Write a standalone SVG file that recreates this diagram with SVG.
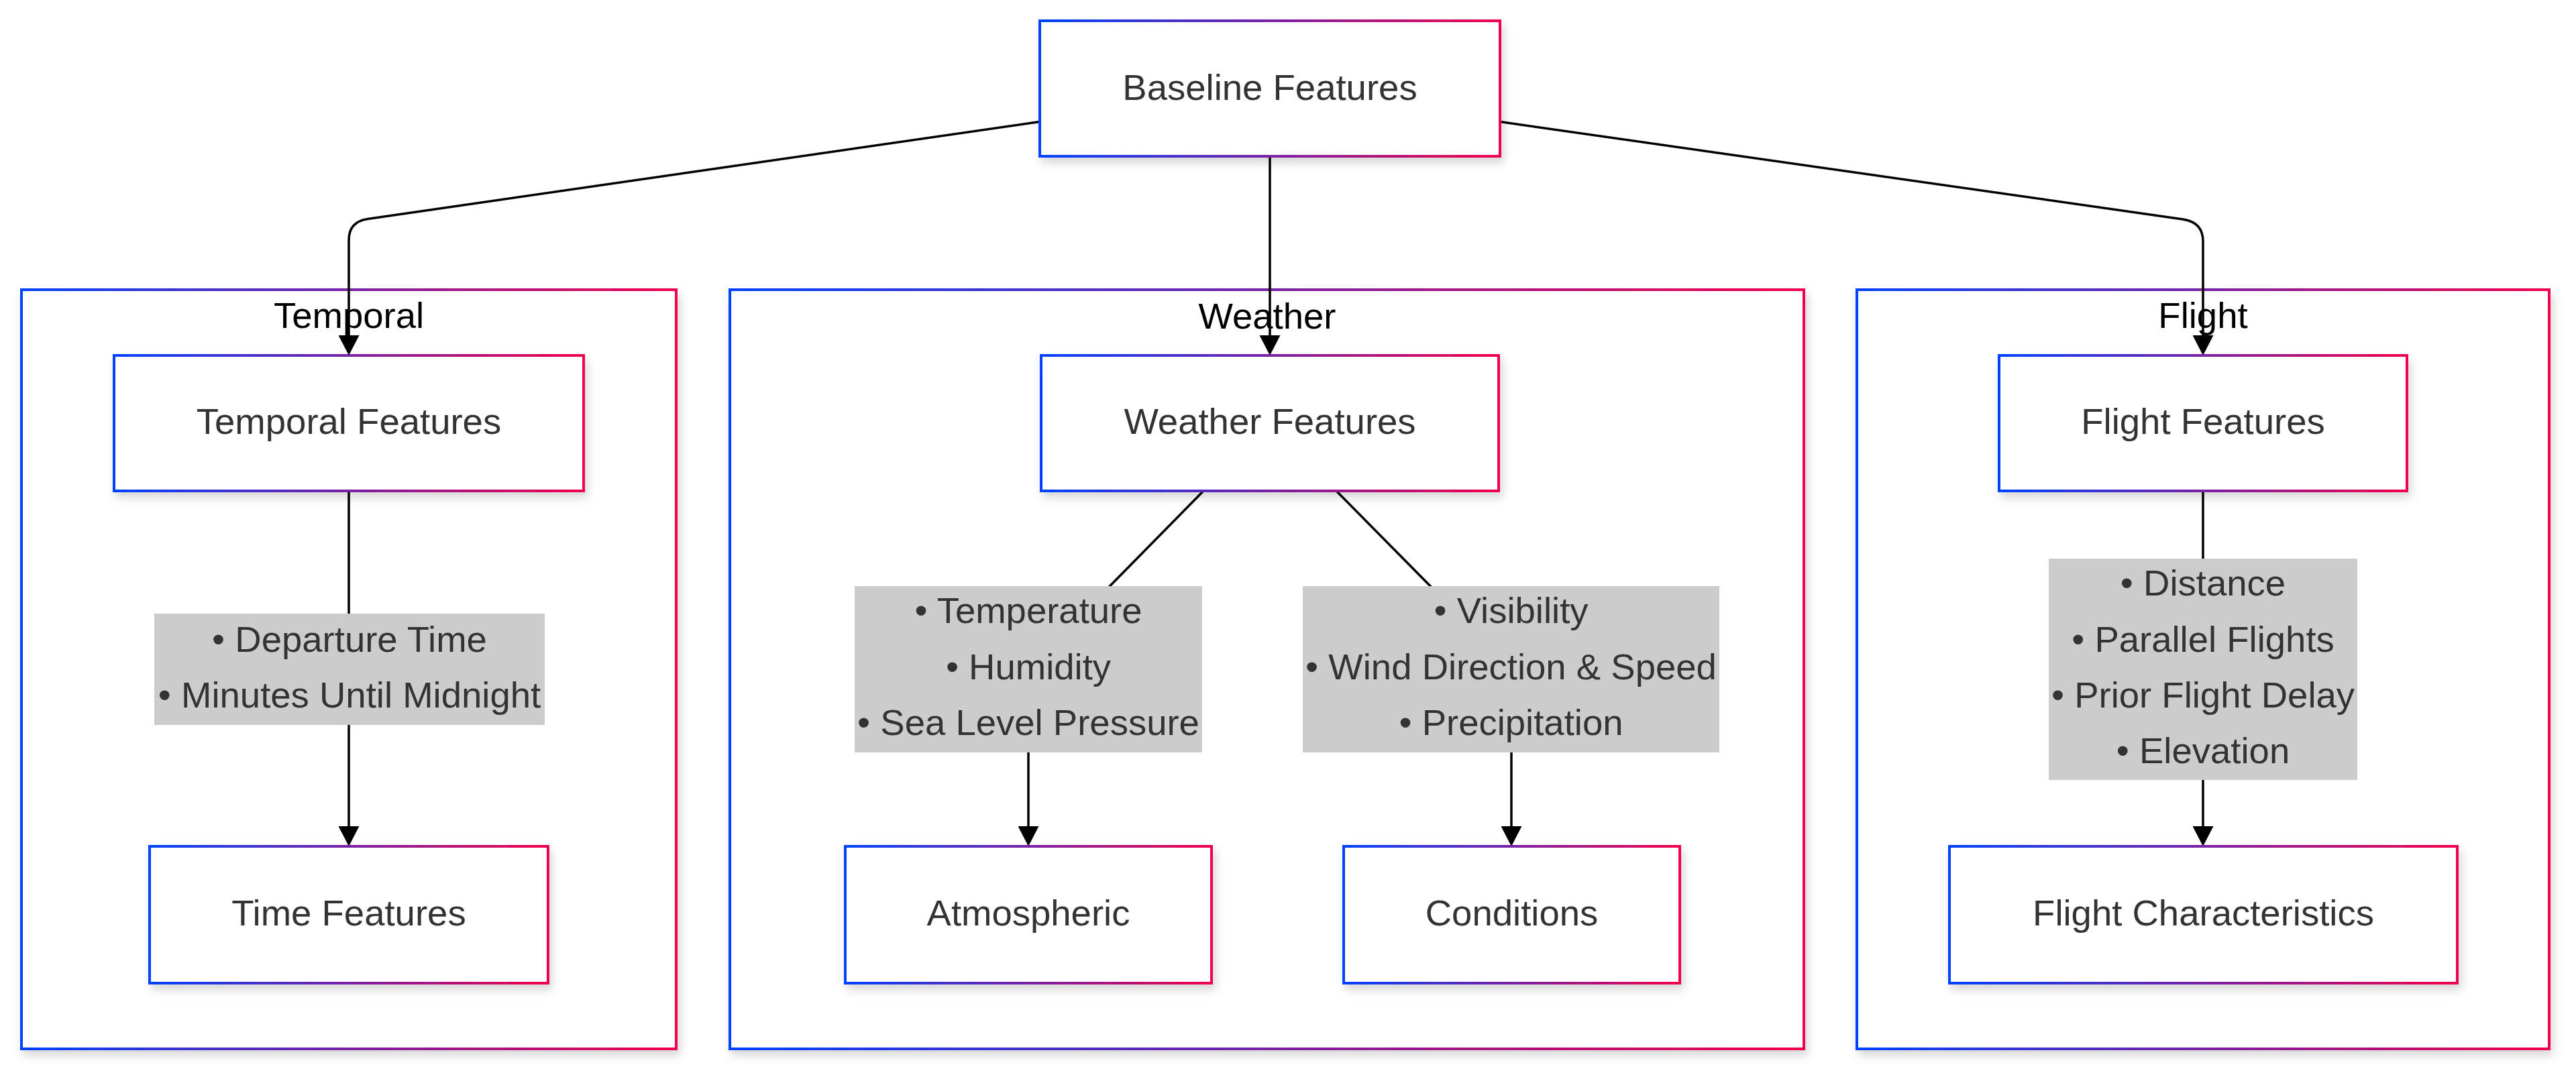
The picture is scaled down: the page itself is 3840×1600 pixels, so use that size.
<svg xmlns="http://www.w3.org/2000/svg" width="3840" height="1600" viewBox="0 0 3840 1600">
  <defs>
    <linearGradient id="grad" x1="0" y1="0" x2="1" y2="0">
      <stop offset="0" stop-color="#0042ff"/>
      <stop offset="1" stop-color="#f2004c"/>
    </linearGradient>
    <filter id="shadow" x="-10%" y="-10%" width="120%" height="130%">
      <feDropShadow dx="4" dy="8" stdDeviation="7" flood-color="#000" flood-opacity="0.16"/>
    </filter>
    <marker id="arrow" viewBox="0 0 30 31" refX="0" refY="15.5" markerWidth="30" markerHeight="31" markerUnits="userSpaceOnUse" orient="auto">
      <path d="M0,0 L30,15.5 L0,31 z" fill="#000"/>
    </marker>
    <style>
      .cluster { fill: #ffffff; stroke: url(#grad); stroke-width: 4; filter: url(#shadow); }
      .node rect { fill: #ffffff; stroke: url(#grad); stroke-width: 4; filter: url(#shadow); }
      .ntext { font-family: "Liberation Sans", Arial, sans-serif; font-size: 54.5px; fill: #333333; text-anchor: middle; }
      .ctext { font-family: "Liberation Sans", Arial, sans-serif; font-size: 54.5px; fill: #000000; text-anchor: middle; }
      .edge { fill: none; stroke: #000000; stroke-width: 3.5; }
      .lbg { fill: #cccccc; }
    </style>
  </defs>
  <rect x="0" y="0" width="3840" height="1600" fill="#ffffff"/>

  <g id="clusters">
    <g id="cluster-temporal">
      <rect class="cluster" x="32" y="432" width="976" height="1132"/>
    </g>
    <g id="cluster-weather">
      <rect class="cluster" x="1088" y="432" width="1601" height="1132"/>
    </g>
    <g id="cluster-flight">
      <rect class="cluster" x="2768" y="432" width="1032" height="1132"/>
    </g>
  </g>

  <g id="connectors">
    <path class="edge" d="M1550,181.5 L548,326.5 Q520,330.6 520,358 L520,500" marker-end="url(#arrow)"/>
    <path class="edge" d="M1893,233 L1893,500" marker-end="url(#arrow)"/>
    <path class="edge" d="M2236,181.5 L3254,327 Q3284,331.3 3284,360 L3284,500" marker-end="url(#arrow)"/>
    <path class="edge" d="M520,732 L520,1232" marker-end="url(#arrow)"/>
    <path class="edge" d="M1793,733 L1560,970 Q1533,997 1533,1030 L1533,1232" marker-end="url(#arrow)"/>
    <path class="edge" d="M1993,733 L2226,969 Q2253,997 2253,1030 L2253,1232" marker-end="url(#arrow)"/>
    <path class="edge" d="M3284,733 L3284,1232" marker-end="url(#arrow)"/>
  </g>

  <g id="cluster-labels">
    <text class="ctext" x="520" y="489">Temporal</text>
    <text class="ctext" x="1889" y="490">Weather</text>
    <text class="ctext" x="3284" y="489">Flight</text>
  </g>

  <g id="edge-labels">
    <g id="label-temporal">
      <rect class="lbg" x="230" y="915" width="582" height="166"/>
      <text class="ntext" x="521" y="972">• Departure Time</text>
      <text class="ntext" x="521" y="1055">• Minutes Until Midnight</text>
    </g>
    <g id="label-atmospheric">
      <rect class="lbg" x="1274" y="874" width="518" height="248"/>
      <text class="ntext" x="1533" y="929">• Temperature</text>
      <text class="ntext" x="1533" y="1013">• Humidity</text>
      <text class="ntext" x="1533" y="1096">• Sea Level Pressure</text>
    </g>
    <g id="label-conditions">
      <rect class="lbg" x="1942" y="874" width="621" height="248"/>
      <text class="ntext" x="2252.5" y="929">• Visibility</text>
      <text class="ntext" x="2252.5" y="1013">• Wind Direction &amp; Speed</text>
      <text class="ntext" x="2252.5" y="1096">• Precipitation</text>
    </g>
    <g id="label-flight">
      <rect class="lbg" x="3054" y="833" width="460" height="330"/>
      <text class="ntext" x="3284" y="888">• Distance</text>
      <text class="ntext" x="3284" y="972">• Parallel Flights</text>
      <text class="ntext" x="3284" y="1055">• Prior Flight Delay</text>
      <text class="ntext" x="3284" y="1138">• Elevation</text>
    </g>
  </g>

  <g id="node-baseline" class="node">
    <rect x="1550" y="31" width="686" height="202"/>
    <text class="ntext" x="1893" y="149">Baseline Features</text>
  </g>
  <g id="node-temporal-features" class="node">
    <rect x="170" y="530" width="700" height="202"/>
    <text class="ntext" x="520" y="647">Temporal Features</text>
  </g>
  <g id="node-time-features" class="node">
    <rect x="223" y="1262" width="594" height="204"/>
    <text class="ntext" x="520" y="1380">Time Features</text>
  </g>
  <g id="node-weather-features" class="node">
    <rect x="1552" y="530" width="682" height="202"/>
    <text class="ntext" x="1893" y="647">Weather Features</text>
  </g>
  <g id="node-atmospheric" class="node">
    <rect x="1260" y="1262" width="546" height="204"/>
    <text class="ntext" x="1533" y="1380">Atmospheric</text>
  </g>
  <g id="node-conditions" class="node">
    <rect x="2003" y="1262" width="501" height="204"/>
    <text class="ntext" x="2253.5" y="1380">Conditions</text>
  </g>
  <g id="node-flight-features" class="node">
    <rect x="2980" y="530" width="608" height="202"/>
    <text class="ntext" x="3284" y="647">Flight Features</text>
  </g>
  <g id="node-flight-characteristics" class="node">
    <rect x="2906" y="1262" width="757" height="204"/>
    <text class="ntext" x="3284.5" y="1380">Flight Characteristics</text>
  </g>
</svg>
